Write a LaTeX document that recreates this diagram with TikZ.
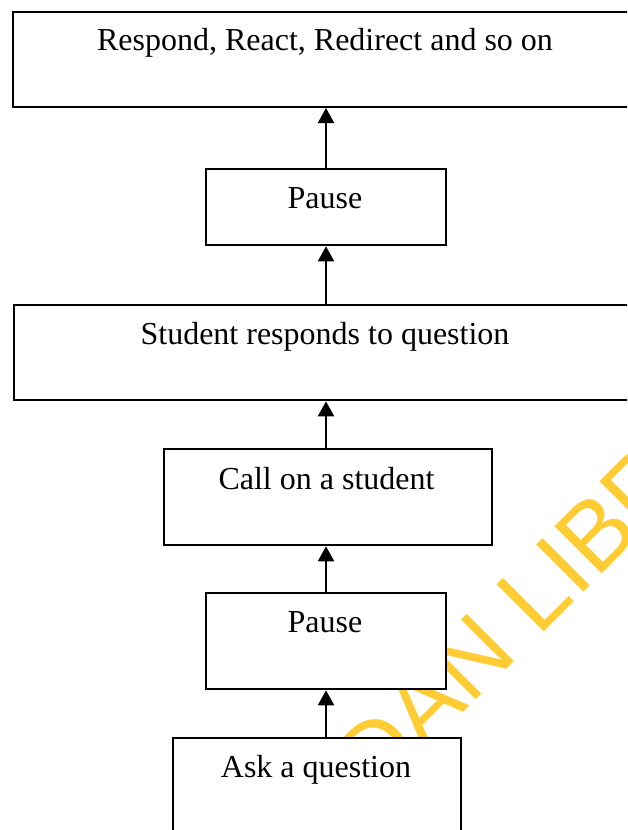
\documentclass[tikz,border=0pt]{standalone}
\usepackage{fontspec}
\setmainfont{Liberation Serif}
\newfontfamily\wmfont{Liberation Sans}
\usetikzlibrary{arrows.meta}
\definecolor{wmyellow}{RGB}{255,204,51}
\tikzset{
  x=1pt, y=-1pt,
  box/.style={draw=black, line width=2pt, fill=white, rectangle, inner sep=0pt, anchor=north west},
  lbl/.style={anchor=base, inner sep=0pt, font=\fontsize{32}{38}\selectfont},
  flow/.style={line width=2pt, -{Triangle[width=16pt,length=15pt]}},
}
\begin{document}
\begin{tikzpicture}
\useasboundingbox (0,0) rectangle (627,830);
\begin{scope}
\clip (0,0) rectangle (627,830);
% library watermark, behind the boxes
\node[text=wmyellow, rotate=45, anchor=base, inner sep=0pt,
      font=\wmfont\fontsize{97}{100}\selectfont] (wm) at (539,637)
  {\makebox[0pt][r]{UNIVERSITY OF IBADAN\ }\makebox[0pt][l]{LIBRARY}};
% boxes
\node[box, minimum width=640pt, minimum height=95pt] (b1) at (11.7,11) {};
\node[box, minimum width=240pt, minimum height=76pt] (b2) at (205,168.3) {};
\node[box, minimum width=640pt, minimum height=95pt] (b3) at (12.7,304.3) {};
\node[box, minimum width=328pt, minimum height=96pt] (b4) at (162.7,448.3) {};
\node[box, minimum width=240pt, minimum height=96pt] (b5) at (205,592.3) {};
\node[box, minimum width=288pt, minimum height=120pt] (b6) at (171.7,737) {};
% labels
\node[lbl] (t1) at (325,50) {Respond, React, Redirect and so on};
\node[lbl] (t2) at (325,208.5) {Pause};
\node[lbl] (t3) at (325,344) {Student responds to question};
\node[lbl] (t4) at (326.5,489.3) {Call on a student};
\node[lbl] (t5) at (325,632.5) {Pause};
\node[lbl] (t6) at (316,777) {Ask a question};
% connectors
\draw[flow] (b5.south |- b6.north) -- (b5.south);
\draw[flow] (b5.north) -- (b5.north |- b4.south);
\draw[flow] (b5.north |- b4.north) -- (b5.north |- b3.south);
\draw[flow] (b2.south |- b3.north) -- (b2.south);
\draw[flow] (b2.north) -- (b2.north |- b1.south);
\end{scope}
\end{tikzpicture}
\end{document}
